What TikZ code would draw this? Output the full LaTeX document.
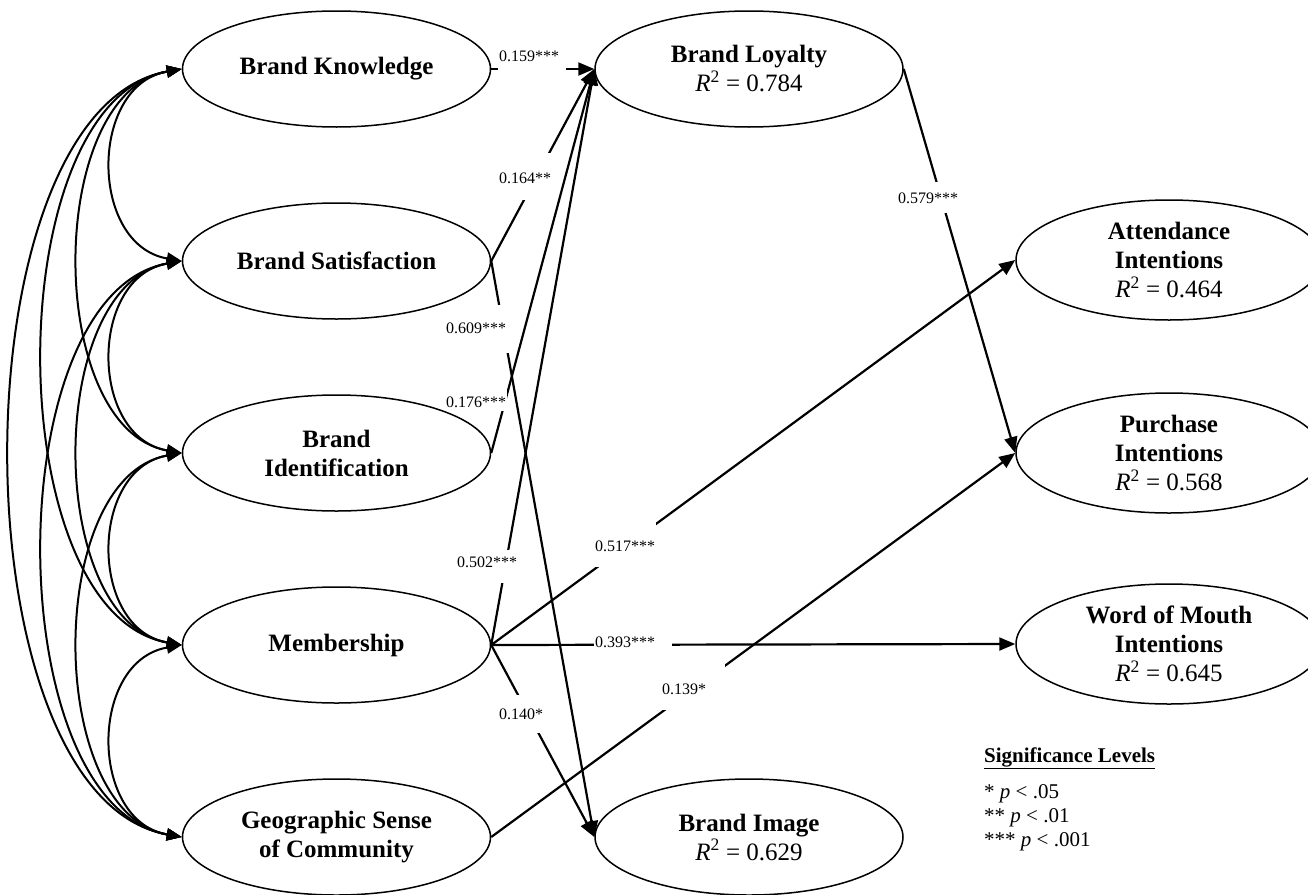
\documentclass[tikz,border=0pt]{standalone}
\usepackage{fontspec}
\setmainfont{Liberation Serif}
\usetikzlibrary{shapes.geometric,arrows.meta}

% R-squared line set in regular weight inside a bold node
\newcommand{\rsqline}[1]{{\normalfont\textit{R}\textsuperscript{2} = #1}}

\begin{document}
\begin{tikzpicture}[x=1pt,y=-1pt,
  lat/.style={ellipse, draw, line width=1.5pt, minimum width=308pt,
    minimum height=116pt, inner sep=0pt, align=center,
    font=\fontsize{25}{29}\selectfont\bfseries},
  latr/.style={lat, minimum width=306pt, minimum height=120pt},
  effect/.style={-{Triangle[length=16pt,width=13pt]}, line width=2.2pt},
  cov/.style={{Triangle[length=15pt,width=12pt]}-{Triangle[length=15pt,width=12pt]},
    line width=2pt},
  coef/.style={fill=white, inner xsep=1pt, inner ysep=0pt, anchor=base west,
    align=left, font=\fontsize{16}{16}\selectfont},
  legend/.style={anchor=base west, inner sep=0pt, font=\fontsize{21}{21}\selectfont}]

\useasboundingbox (0,0) rectangle (1308,894);
\clip (0,0) rectangle (1308,894);

% exogenous constructs
\node[lat] (bk)  at (336.5,69)  {Brand Knowledge};
\node[lat] (bs)  at (336.5,261) {Brand Satisfaction};
\node[lat] (bi)  at (336.5,453) {Brand\\Identification};
\node[lat] (mem) at (336.5,645) {Membership};
\node[lat] (gsc) at (336.5,837) {Geographic Sense\\of Community};

% mediators
\node[lat] (bl)  at (749,69)  {Brand Loyalty\\\rsqline{0.784}};
\node[lat] (bim) at (749,837) {Brand Image\\\rsqline{0.629}};

% outcomes
\node[latr] (att) at (1169,260) {Attendance\\Intentions\\\rsqline{0.464}};
\node[latr] (pur) at (1169,453) {Purchase\\Intentions\\\rsqline{0.568}};
\node[latr] (wom) at (1169,644) {Word of Mouth\\Intentions\\\rsqline{0.645}};

% correlations among exogenous constructs
\draw[cov] (bk.west)  .. controls +(-93,16)  and +(-93,-16)  .. (bs.west);
\draw[cov] (bs.west)  .. controls +(-93,16)  and +(-93,-16)  .. (bi.west);
\draw[cov] (bi.west)  .. controls +(-93,16)  and +(-93,-16)  .. (mem.west);
\draw[cov] (mem.west) .. controls +(-93,16)  and +(-93,-16)  .. (gsc.west);
\draw[cov] (bk.west)  .. controls +(-137,24) and +(-137,-24) .. (bi.west);
\draw[cov] (bs.west)  .. controls +(-137,24) and +(-137,-24) .. (mem.west);
\draw[cov] (bi.west)  .. controls +(-137,24) and +(-137,-24) .. (gsc.west);
\draw[cov] (bk.west)  .. controls +(-184,32) and +(-184,-32) .. (mem.west);
\draw[cov] (bs.west)  .. controls +(-184,32) and +(-184,-32) .. (gsc.west);
\draw[cov] (bk.west)  .. controls +(-228,40) and +(-228,-40) .. (gsc.west);

% structural paths
\draw[effect] (bk.east)  -- (bl.west);
\draw[effect] (bs.east)  -- (bl.west);
\draw[effect] (bi.east)  -- (bl.west);
\draw[effect] (mem.east) -- (bl.west);
\draw[effect] (bs.east)  -- (bim.west);
\draw[effect] (mem.east) -- (bim.west);
\draw[effect] (mem.east) -- (att.west);
\draw[effect] (mem.east) -- (wom.west);
\draw[effect] (gsc.east) -- (pur.west);
\draw[effect] (bl.east)  -- (pur.west);

% path coefficients
\node[coef, text width=66pt, text height=16pt, text depth=13pt] (c1)  at (498,61)  {0.159***};
\node[coef, text width=53pt, text height=30pt, text depth=17pt] (c2)  at (498,183) {0.164**};
\node[coef, text width=62pt, text height=28pt, text depth=20pt] (c3)  at (445,333) {0.609***};
\node[coef, text width=60pt, text height=32pt, text depth=4pt]  (c4)  at (445,407) {0.176***};
\node[coef, text width=62pt, text height=17pt, text depth=16pt] (c5)  at (456,567) {0.502***};
\node[coef, text width=60pt, text height=29pt, text depth=16pt] (c6)  at (594,551) {0.517***};
\node[coef, text width=76pt, text height=15pt, text depth=8pt]  (c7)  at (594,647) {0.393***};
\node[coef, text width=45pt, text height=24pt, text depth=14pt] (c8)  at (498,719) {0.140*};
\node[coef, text width=62pt, text height=30pt, text depth=16pt] (c9)  at (661,694) {0.139*};
\node[coef, text width=61pt, text height=21pt, text depth=10pt] (c10) at (897,203) {0.579***};

% significance legend
\node[legend, font=\fontsize{21}{21}\selectfont\bfseries] (sigt) at (984,762) {\underline{Significance Levels}};
\node[legend] (sig1) at (984,798) {* \textit{p} < .05};
\node[legend] (sig2) at (984,822) {** \textit{p} < .01};
\node[legend] (sig3) at (984,846) {*** \textit{p} < .001};

\end{tikzpicture}
\end{document}
